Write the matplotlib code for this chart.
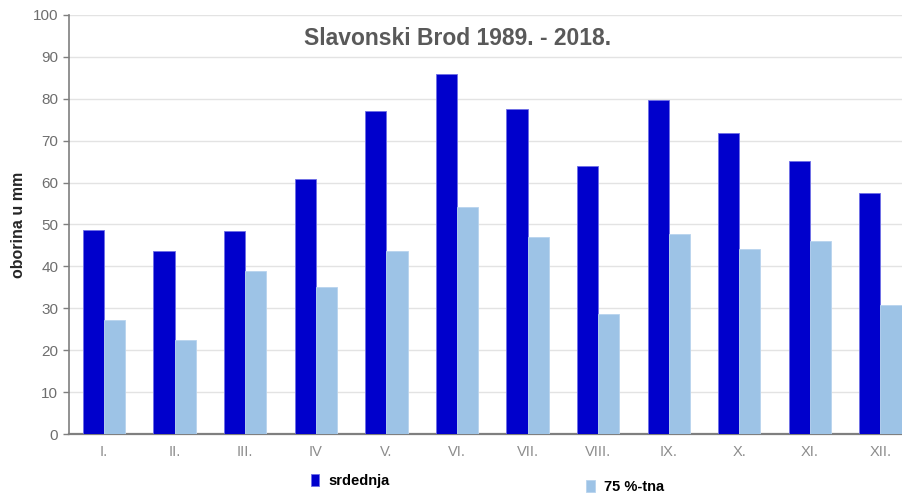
import numpy as np
import matplotlib
matplotlib.use('Agg')
import matplotlib.pyplot as plt

# THE DATA *****************************************************************

months = ['I.', 'II.', 'III.', 'IV', 'V.', 'VI.', 'VII.', 'VIII.', 'IX.', 'X.', 'XI.', 'XII.']
srednja = [48.7, 43.7, 48.4, 60.9, 77.1, 85.9, 77.6, 64.0, 79.7, 71.8, 65.2, 57.5]
tna75 = [27.2, 22.4, 38.9, 35.1, 43.7, 54.2, 47.0, 28.6, 47.7, 44.2, 46.1, 30.8]

# THE CHART ****************************************************************

plt.rcParams['font.family'] = ['Liberation Sans', 'DejaVu Sans']

fig = plt.figure(figsize=(9.02, 4.96), dpi=100, facecolor='w')
ax = fig.add_axes([0.0762, 0.125, 0.939, 0.845])

x = np.arange(len(months))
w = 0.30
b1 = ax.bar(x - w / 2, srednja, width=w, color='#0000cc', edgecolor='#6f6fe6',
            linewidth=0.6, zorder=3, label='srdednja')
b2 = ax.bar(x + w / 2, tna75, width=w, color='#9dc3e6', edgecolor='#b8d4ee',
            linewidth=0.6, zorder=3, label='75 %-tna')

# axes and grid
ax.set_xlim(-0.5, len(months) - 0.5)
ax.set_ylim(0, 100)
ax.set_yticks(np.arange(0, 101, 10))
ax.set_xticks(x)
ax.set_xticklabels(months, fontsize=10.5, color='#8c8c8c')
ax.tick_params(axis='x', length=0, pad=8)
ax.tick_params(axis='y', labelsize=11, labelcolor='#6e6e6e', length=4, width=1, color='#7f7f7f')
ax.grid(axis='y', color='#e3e3e3', linewidth=1, zorder=0)

for s in ['top', 'right']:
    ax.spines[s].set_visible(False)
ax.spines['left'].set_color('#7f7f7f')
ax.spines['left'].set_linewidth(1.2)
ax.spines['bottom'].set_color('#7f7f7f')
ax.spines['bottom'].set_linewidth(1.6)

ax.set_ylabel('oborina u mm', fontsize=11.5, fontweight='bold', color='#262626', labelpad=5)

# title
fig.text(0.507, 0.923, 'Slavonski Brod 1989. - 2018.', ha='center', va='center',
         fontsize=16.5, fontweight='bold', color='#595959')

# two separate legend entries
leg1 = fig.legend(handles=[b1], loc='center', bbox_to_anchor=(0.388, 0.03), frameon=False,
                  fontsize=10.5, handlelength=0.6, handleheight=0.9, handletextpad=0.6)
for t in leg1.get_texts():
    t.set_fontweight('bold')
leg2 = fig.legend(handles=[b2], loc='center', bbox_to_anchor=(0.693, 0.018), frameon=False,
                  fontsize=10.5, handlelength=0.6, handleheight=0.9, handletextpad=0.6)
for t in leg2.get_texts():
    t.set_fontweight('bold')

plt.savefig('out.png', dpi=100, facecolor='w')
